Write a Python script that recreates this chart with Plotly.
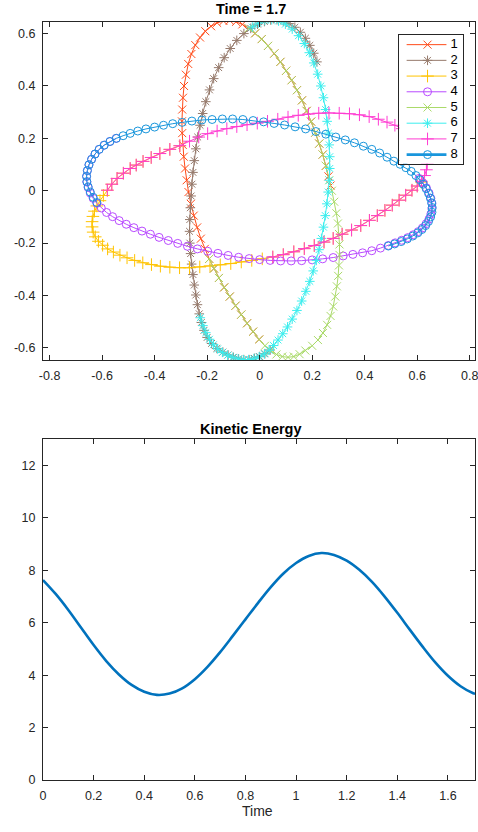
import plotly.graph_objects as go

FONT = "Liberation Sans, Arial, Helvetica, sans-serif"
INK = "#262626"

# ---------------- data ----------------
SERIES_NAMES = ["1", "2", "3", "4", "5", "6", "7", "8"]
COLORS = ["rgb(255,75,25)", "rgb(150,122,108)", "rgb(255,195,0)", "rgb(185,75,255)",
          "rgb(170,218,105)", "rgb(60,238,238)", "rgb(255,60,210)", "rgb(25,150,220)"]
SYMBOLS = ["x-thin-open", "asterisk-open", "cross-thin-open", "circle-open",
           "x-thin-open", "asterisk-open", "cross-thin-open", "circle-open"]

P1 = [(0.270,0.020),(0.262,0.055),(0.252,0.095),(0.240,0.138),(0.227,0.180),(0.212,0.222),(0.196,0.264),
      (0.179,0.305),(0.161,0.345),(0.142,0.384),(0.122,0.422),(0.101,0.458),(0.079,0.492),(0.056,0.524),
      (0.032,0.553),(0.008,0.579),(-0.017,0.601),(-0.042,0.620),(-0.066,0.635),(-0.090,0.645),(-0.114,0.650),
      (-0.138,0.648),(-0.162,0.641),(-0.185,0.628),(-0.207,0.609),(-0.227,0.585),(-0.245,0.556),(-0.260,0.522),
      (-0.272,0.484),(-0.281,0.443),(-0.288,0.400),(-0.292,0.355),(-0.295,0.310),(-0.296,0.265),(-0.295,0.220),
      (-0.293,0.175),(-0.289,0.130),(-0.284,0.085),(-0.278,0.040),(-0.271,-0.005),(-0.262,-0.050),(-0.251,-0.095),
      (-0.238,-0.140),(-0.224,-0.183),(-0.209,-0.222),(-0.192,-0.260),(-0.174,-0.297),(-0.155,-0.333),
      (-0.135,-0.369),(-0.114,-0.404),(-0.092,-0.439),(-0.070,-0.473),(-0.048,-0.506),(-0.025,-0.538),(-0.002,-0.568)]

P2 = [(0.040,-0.608),(0.020,-0.622),(0.000,-0.633),(-0.020,-0.640),(-0.040,-0.645),(-0.060,-0.645),(-0.080,-0.642),
      (-0.100,-0.636),(-0.120,-0.627),(-0.140,-0.616),(-0.163,-0.602),(-0.183,-0.583),(-0.200,-0.560),(-0.212,-0.533),
      (-0.222,-0.503),(-0.230,-0.470),(-0.237,-0.435),(-0.243,-0.398),(-0.249,-0.360),(-0.254,-0.320),(-0.259,-0.280),
      (-0.263,-0.240),(-0.266,-0.200),(-0.267,-0.155),(-0.266,-0.110),(-0.264,-0.065),(-0.261,-0.020),(-0.258,0.025),
      (-0.254,0.070),(-0.249,0.115),(-0.243,0.160),(-0.236,0.205),(-0.227,0.250),(-0.217,0.295),(-0.205,0.340),
      (-0.191,0.385),(-0.175,0.428),(-0.156,0.470),(-0.135,0.508),(-0.112,0.543),(-0.087,0.574),(-0.060,0.600),
      (-0.034,0.620),(-0.008,0.636),(0.018,0.646),(0.042,0.652),(0.066,0.653),(0.090,0.648),(0.112,0.638),
      (0.134,0.624),(0.155,0.605),(0.174,0.582),(0.191,0.555),(0.206,0.525),(0.218,0.492)]

P3 = [(-0.304,0.172),(-0.342,0.158),(-0.380,0.142),(-0.413,0.127),(-0.444,0.112),(-0.470,0.098),(-0.493,0.085),
      (-0.519,0.067),(-0.543,0.047),(-0.563,0.025),(-0.580,0.002),(-0.595,-0.018),(-0.608,-0.038),(-0.620,-0.058),
      (-0.629,-0.078),(-0.635,-0.098),(-0.638,-0.118),(-0.638,-0.138),(-0.634,-0.158),(-0.626,-0.176),(-0.614,-0.193),
      (-0.598,-0.208),(-0.579,-0.222),(-0.557,-0.234),(-0.532,-0.246),(-0.505,-0.256),(-0.476,-0.266),(-0.445,-0.275),
      (-0.412,-0.282),(-0.378,-0.288),(-0.342,-0.292),(-0.305,-0.294),(-0.267,-0.294),(-0.228,-0.291),(-0.189,-0.287),
      (-0.150,-0.283),(-0.110,-0.278),(-0.070,-0.272),(-0.030,-0.266),(0.010,-0.260),(0.050,-0.253),(0.090,-0.244),
      (0.130,-0.233),(0.170,-0.221),(0.208,-0.209),(0.245,-0.196),(0.280,-0.182),(0.314,-0.166),(0.350,-0.150),
      (0.385,-0.133),(0.418,-0.113),(0.448,-0.095),(0.477,-0.075),(0.505,-0.055),(0.531,-0.036),(0.556,-0.017),
      (0.580,0.002),(0.600,0.018),(0.616,0.033)]

P4 = [(-0.546,0.200),(-0.570,0.188),(-0.592,0.174),(-0.611,0.158),(-0.627,0.140),(-0.640,0.120),(-0.650,0.099),
      (-0.656,0.077),(-0.659,0.055),(-0.658,0.033),(-0.653,0.012),(-0.645,-0.009),(-0.634,-0.029),(-0.620,-0.048),
      (-0.603,-0.066),(-0.583,-0.083),(-0.560,-0.099),(-0.535,-0.114),(-0.508,-0.128),(-0.479,-0.141),(-0.448,-0.154),
      (-0.416,-0.166),(-0.383,-0.178),(-0.348,-0.190),(-0.312,-0.201),(-0.275,-0.212),(-0.237,-0.222),(-0.198,-0.231),
      (-0.159,-0.239),(-0.120,-0.247),(-0.080,-0.254),(-0.040,-0.259),(0.000,-0.263),(0.040,-0.266),(0.080,-0.268),
      (0.120,-0.268),(0.160,-0.267),(0.200,-0.264),(0.240,-0.260),(0.280,-0.255),(0.318,-0.249),(0.355,-0.243),
      (0.392,-0.237),(0.427,-0.229),(0.460,-0.219),(0.490,-0.209),(0.516,-0.199),(0.541,-0.189),(0.564,-0.179),
      (0.585,-0.168),(0.604,-0.156),(0.620,-0.142),(0.634,-0.126),(0.645,-0.108),(0.652,-0.089),(0.656,-0.069),
      (0.656,-0.049),(0.652,-0.029),(0.645,-0.009),(0.635,0.011),(0.622,0.030),(0.607,0.047)]

P5 = [(-0.192,-0.260),(-0.174,-0.297),(-0.155,-0.333),(-0.135,-0.369),(-0.114,-0.404),(-0.092,-0.439),(-0.070,-0.473),
      (-0.048,-0.506),(-0.025,-0.538),(-0.002,-0.568),(0.020,-0.592),(0.042,-0.611),(0.064,-0.625),(0.086,-0.633),
      (0.108,-0.636),(0.130,-0.633),(0.152,-0.624),(0.174,-0.610),(0.200,-0.592),(0.222,-0.570),(0.241,-0.543),
      (0.257,-0.512),(0.270,-0.478),(0.280,-0.442),(0.288,-0.404),(0.294,-0.365),(0.299,-0.325),(0.302,-0.285),
      (0.304,-0.245),(0.304,-0.205),(0.302,-0.165),(0.298,-0.125),(0.292,-0.086),(0.284,-0.042),(0.275,0.000),
      (0.265,0.040),(0.252,0.095),(0.240,0.138),(0.227,0.180),(0.212,0.222),(0.196,0.264),(0.179,0.305),
      (0.161,0.345),(0.142,0.384),(0.122,0.422),(0.101,0.458),(0.079,0.492),(0.056,0.524),(0.032,0.553),
      (0.008,0.579),(-0.017,0.601),(-0.042,0.620)]

P6 = [(-0.226,-0.485),(-0.216,-0.515),(-0.205,-0.542),(-0.191,-0.567),(-0.176,-0.588),(-0.160,-0.604),(-0.142,-0.617),
      (-0.122,-0.628),(-0.102,-0.636),(-0.082,-0.642),(-0.062,-0.645),(-0.042,-0.645),(-0.022,-0.641),(-0.002,-0.634),
      (0.018,-0.623),(0.036,-0.609),(0.053,-0.591),(0.070,-0.570),(0.088,-0.546),(0.106,-0.520),(0.124,-0.490),
      (0.142,-0.457),(0.160,-0.421),(0.176,-0.384),(0.191,-0.346),(0.204,-0.306),(0.216,-0.266),(0.226,-0.225),
      (0.235,-0.182),(0.243,-0.139),(0.250,-0.095),(0.256,-0.050),(0.261,-0.005),(0.265,0.040),(0.267,0.085),
      (0.267,0.130),(0.265,0.175),(0.262,0.220),(0.257,0.265),(0.251,0.310),(0.243,0.355),(0.233,0.400),
      (0.221,0.445),(0.206,0.488),(0.189,0.527),(0.170,0.562),(0.148,0.592),(0.124,0.617),(0.098,0.636),
      (0.072,0.648),(0.046,0.653),(0.020,0.650),(-0.005,0.640),(-0.028,0.625)]

P7 = [(0.050,-0.253),(0.090,-0.244),(0.130,-0.233),(0.170,-0.221),(0.208,-0.209),(0.245,-0.196),(0.280,-0.182),
      (0.314,-0.166),(0.350,-0.150),(0.385,-0.133),(0.418,-0.113),(0.448,-0.095),(0.477,-0.075),(0.505,-0.055),
      (0.531,-0.036),(0.556,-0.017),(0.580,0.002),(0.600,0.018),(0.616,0.036),(0.628,0.058),(0.635,0.080),
      (0.638,0.102),(0.637,0.124),(0.632,0.145),(0.622,0.166),(0.608,0.186),(0.590,0.205),(0.568,0.222),
      (0.543,0.237),(0.515,0.250),(0.485,0.262),(0.452,0.273),(0.417,0.283),(0.380,0.290),(0.342,0.294),
      (0.303,0.296),(0.264,0.297),(0.225,0.296),(0.186,0.293),(0.147,0.288),(0.108,0.281),(0.069,0.273),
      (0.030,0.265),(-0.009,0.258),(-0.048,0.252),(-0.087,0.245),(-0.125,0.237),(-0.162,0.228),(-0.198,0.218),
      (-0.232,0.205),(-0.267,0.189),(-0.304,0.172),(-0.342,0.158),(-0.380,0.142),(-0.413,0.127),(-0.444,0.112),
      (-0.470,0.098),(-0.493,0.085),(-0.519,0.067),(-0.543,0.047),(-0.563,0.025),(-0.580,0.002)]

P8 = [(-0.620,-0.045),(-0.634,-0.025),(-0.645,-0.005),(-0.653,0.015),(-0.658,0.035),(-0.659,0.055),(-0.656,0.077),
      (-0.650,0.099),(-0.640,0.120),(-0.627,0.140),(-0.611,0.158),(-0.592,0.174),(-0.570,0.188),(-0.546,0.200),
      (-0.520,0.210),(-0.493,0.219),(-0.464,0.228),(-0.433,0.236),(-0.400,0.243),(-0.366,0.250),(-0.331,0.256),
      (-0.295,0.261),(-0.258,0.266),(-0.220,0.270),(-0.181,0.272),(-0.142,0.274),(-0.103,0.274),(-0.064,0.272),
      (-0.025,0.268),(0.015,0.263),(0.055,0.257),(0.095,0.251),(0.135,0.244),(0.175,0.236),(0.214,0.226),
      (0.252,0.216),(0.290,0.205),(0.326,0.194),(0.361,0.183),(0.395,0.170),(0.427,0.158),(0.457,0.144),
      (0.485,0.128),(0.511,0.113),(0.535,0.101),(0.557,0.088),(0.577,0.074),(0.595,0.058),(0.610,0.042),
      (0.623,0.025),(0.634,0.008),(0.643,-0.010),(0.650,-0.028),(0.655,-0.046),(0.657,-0.064),(0.656,-0.082),
      (0.651,-0.100),(0.643,-0.117),(0.632,-0.133),(0.618,-0.148),(0.602,-0.161),(0.583,-0.173),(0.562,-0.184),
      (0.539,-0.194),(0.514,-0.203),(0.490,-0.211)]

PATHS = [P1, P2, P3, P4, P5, P6, P7, P8]

KE_T = [0, 0.05, 0.1, 0.15, 0.2, 0.25, 0.3, 0.35, 0.4, 0.45, 0.5, 0.55, 0.6, 0.65, 0.7, 0.75, 0.8, 0.85,
        0.9, 0.95, 1.0, 1.05, 1.1, 1.15, 1.2, 1.25, 1.3, 1.35, 1.4, 1.45, 1.5, 1.55, 1.6, 1.65, 1.7, 1.707]
KE_V = [7.63, 7.10, 6.49, 5.82, 5.15, 4.54, 4.03, 3.63, 3.37, 3.25, 3.30, 3.50, 3.85, 4.32, 4.88, 5.50,
        6.13, 6.76, 7.36, 7.88, 8.28, 8.55, 8.66, 8.59, 8.37, 8.02, 7.56, 7.00, 6.38, 5.73, 5.09, 4.49,
        3.98, 3.58, 3.31, 3.29]

TOP_XTICKS = [-0.8, -0.6, -0.4, -0.2, 0, 0.2, 0.4, 0.6, 0.8]
TOP_XTICKTEXT = ["-0.8", "-0.6", "-0.4", "-0.2", "0", "0.2", "0.4", "0.6", "0.8"]
TOP_YTICKS = [-0.6, -0.4, -0.2, 0, 0.2, 0.4, 0.6]
TOP_YTICKTEXT = ["-0.6", "-0.4", "-0.2", "0", "0.2", "0.4", "0.6"]
KE_XTICKS = [0, 0.2, 0.4, 0.6, 0.8, 1.0, 1.2, 1.4, 1.6]
KE_XTICKTEXT = ["0", "0.2", "0.4", "0.6", "0.8", "1", "1.2", "1.4", "1.6"]
KE_YTICKS = [0, 2, 4, 6, 8, 10, 12]

TOP_TITLE = "Time = 1.7"
KE_TITLE = "Kinetic Energy"
KE_XLABEL = "Time"

# ---------------- figure ----------------
fig = go.Figure()

for name, pts, col, sym in zip(SERIES_NAMES, PATHS, COLORS, SYMBOLS):
    xs = [p[0] for p in pts]
    ys = [p[1] for p in pts]
    size = 8 if sym.startswith("circle") else (9 if sym.startswith("cross") else 8)
    fig.add_trace(go.Scatter(
        x=xs, y=ys, mode="lines+markers", name=name, xaxis="x", yaxis="y",
        line=dict(color=col, width=1),
        marker=dict(symbol=sym, size=size, color=col, line=dict(color=col, width=1)),
        showlegend=False, hoverinfo="skip"))

fig.add_trace(go.Scatter(
    x=KE_T, y=KE_V, mode="lines", xaxis="x2", yaxis="y2",
    line=dict(color="#0072BD", width=2.6, shape="spline", smoothing=1.0),
    showlegend=False, hoverinfo="skip"))

# custom legend box (own small subplot), px-like units
LEG_ROW0, LEG_DY = 10.0, 15.85
for i, (name, col, sym) in enumerate(zip(SERIES_NAMES, COLORS, SYMBOLS)):
    yrow = LEG_ROW0 + LEG_DY * i
    size = 8 if sym.startswith("circle") else (9 if sym.startswith("cross") else 8)
    fig.add_trace(go.Scatter(
        x=[7.3, 28.3, 47.3], y=[yrow] * 3, mode="lines+markers", xaxis="x3", yaxis="y3",
        line=dict(color=col, width=2.6 if i == 7 else 1),
        marker=dict(symbol=sym, size=size, color=col, opacity=[0, 1, 0],
                    line=dict(color=col, width=1)),
        showlegend=False, hoverinfo="skip"))
fig.add_trace(go.Scatter(
    x=[51.5] * 8, y=[LEG_ROW0 + LEG_DY * i for i in range(8)], mode="text",
    text=SERIES_NAMES, textposition="middle right", xaxis="x3", yaxis="y3",
    textfont=dict(family=FONT, size=13, color="#000000"),
    showlegend=False, hoverinfo="skip"))

axis_common = dict(
    showline=True, linecolor=INK, linewidth=1, mirror="ticks",
    ticks="inside", ticklen=5, tickwidth=1, tickcolor=INK,
    showgrid=False, zeroline=False,
    tickfont=dict(family=FONT, size=12.5, color=INK),
    ticklabeloverflow="allow",
    fixedrange=True,
)

fig.update_layout(
    width=478, height=832,
    margin=dict(l=43, r=1, t=0, b=0),
    paper_bgcolor="white", plot_bgcolor="white",
    font=dict(family=FONT, color=INK),
    xaxis=dict(domain=[0, 1], anchor="y", range=[-0.825, 0.82],
               tickmode="array", tickvals=TOP_XTICKS, ticktext=TOP_XTICKTEXT,
               ticklabelstandoff=4, **axis_common),
    yaxis=dict(domain=[0.5637, 0.9739], anchor="x", range=[-0.646, 0.646],
               tickmode="array", tickvals=TOP_YTICKS, ticktext=TOP_YTICKTEXT,
               ticklabelstandoff=4, **axis_common),
    xaxis2=dict(domain=[0, 1], anchor="y2", range=[0, 1.707],
                tickmode="array", tickvals=KE_XTICKS, ticktext=KE_XTICKTEXT,
                ticklabelstandoff=4, **axis_common),
    yaxis2=dict(domain=[0.05445, 0.46755], anchor="x2", range=[0, 13],
                tickmode="array", tickvals=KE_YTICKS,
                ticklabelstandoff=4, **axis_common),
    xaxis3=dict(domain=[0.8249, 0.9724], anchor="y3", range=[0, 64],
                showline=True, mirror=True, linecolor=INK, linewidth=1,
                showticklabels=False, ticks="", showgrid=False, zeroline=False, fixedrange=True),
    yaxis3=dict(domain=[0.8017, 0.9579], anchor="x3", range=[130, 0],
                showline=True, mirror=True, linecolor=INK, linewidth=1,
                showticklabels=False, ticks="", showgrid=False, zeroline=False, fixedrange=True),
    annotations=[
        dict(text="<b>%s</b>" % TOP_TITLE, xref="paper", yref="paper", x=0.4816, y=1 - 9 / 832,
             xanchor="center", yanchor="middle", showarrow=False,
             font=dict(family=FONT, size=14.5, color="#000000")),
        dict(text="<b>%s</b>" % KE_TITLE, xref="paper", yref="paper", x=0.4816, y=1 - 433 / 832,
             xanchor="center", yanchor="middle", showarrow=False,
             font=dict(family=FONT, size=14.5, color="#000000")),
        dict(text=KE_XLABEL, xref="paper", yref="paper", x=0.4954, y=1 - 818 / 832,
             xanchor="center", yanchor="middle", showarrow=False,
             font=dict(family=FONT, size=14, color=INK)),
    ],
)

fig.write_html("out.html")
